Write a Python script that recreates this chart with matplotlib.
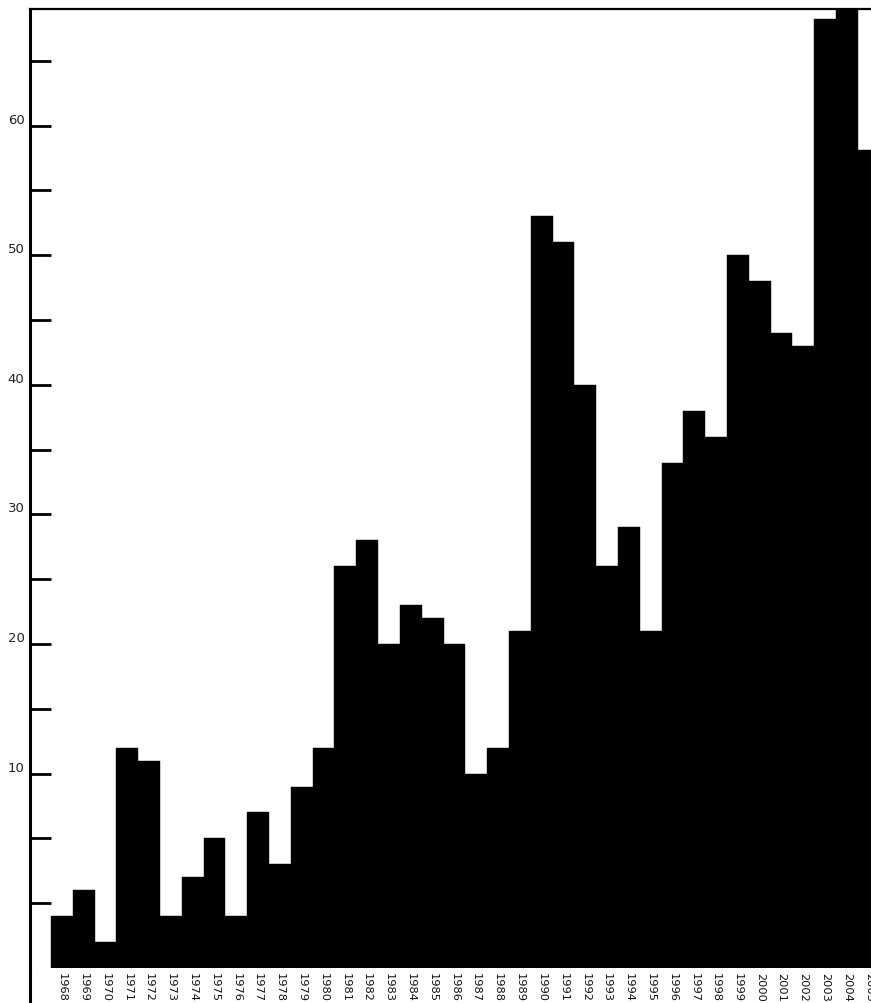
import matplotlib
matplotlib.use("Agg")
import matplotlib.pyplot as plt
from matplotlib.ticker import FixedLocator

# anos y valores
years = list(range(1968, 2006))
values = [-1, 1, -3, 12, 11, -1, 2, 5, -1, 7, 3, 9, 12, 26, 28, 20, 23, 22, 20, 10,
          12, 21, 53, 51, 40, 26, 29, 21, 34, 38, 36, 50, 48, 44, 43, 68.2, 70, 58.1]
baseline = -5
y_labels = [10, 20, 30, 40, 50, 60]
y_minor = [0, 5, 15, 25, 35, 45, 55, 65]

fig = plt.figure(figsize=(8.71, 10.04), dpi=100)
W, H = 871, 1004
# ejes: spine izquierda en x=30, arriba en y=10, base de barras en y=969
ax = fig.add_axes([30 / W, (H - 969) / H, 1 - 30 / W, (969 - 10) / H])

pos = list(range(len(years)))
heights = [v - baseline for v in values]
ax.bar(pos, heights, bottom=baseline, width=1.0, color="black",
       edgecolor="black", linewidth=0.3)

ax.set_xlim(-1.46, 37.1)
ax.set_ylim(baseline, 69)

ax.set_xticks(pos)
ax.set_xticklabels([str(y) for y in years], rotation=270, fontsize=8.2,
                   color="#111111")
ax.tick_params(axis="x", length=0, pad=3)

ax.set_yticks(y_labels)
ax.set_yticklabels([str(v) for v in y_labels], fontsize=9.5, color="#222222")
ax.yaxis.set_minor_locator(FixedLocator(y_minor))
ax.tick_params(axis="y", which="both", direction="in", length=15, width=2,
               pad=4)
for lbl in ax.get_yticklabels():
    lbl.set_va("bottom")

for side in ["right", "bottom"]:
    ax.spines[side].set_visible(False)
ax.spines["left"].set_linewidth(2.2)
ax.spines["top"].set_linewidth(1.6)

# la linea del eje sigue bajo las barras
ax.plot([0, 0], [baseline, baseline - 3], transform=ax.get_yaxis_transform(),
        color="black", linewidth=2.2, clip_on=False, solid_capstyle="butt")

fig.savefig("out.png", dpi=100)
